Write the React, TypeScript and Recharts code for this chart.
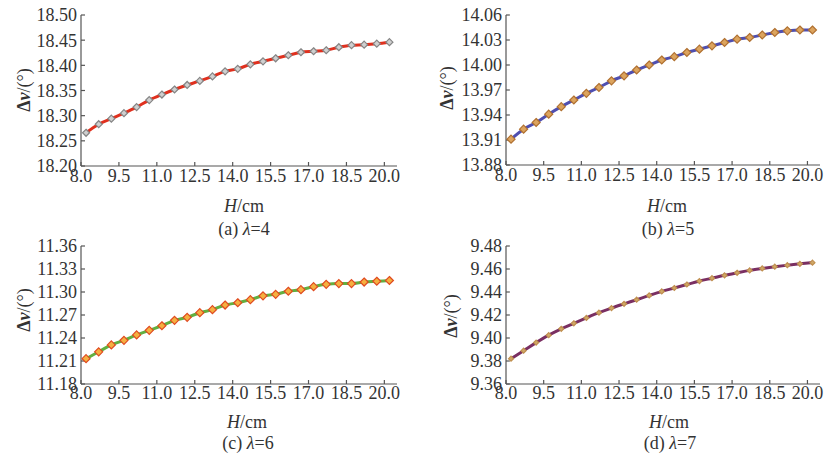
import React from 'react';
import { LineChart, Line, XAxis, YAxis } from 'recharts';

const hValues = [8.2, 8.7, 9.2, 9.7, 10.2, 10.7, 11.2, 11.7, 12.2, 12.7, 13.2, 13.7, 14.2, 14.7, 15.2, 15.7, 16.2, 16.7, 17.2, 17.7, 18.2, 18.7, 19.2, 19.7, 20.2];

const dvLambda4 = [18.266, 18.283, 18.294, 18.305, 18.317, 18.331, 18.342, 18.352, 18.361, 18.369, 18.378, 18.388, 18.393, 18.402, 18.408, 18.414, 18.42, 18.426, 18.428, 18.43, 18.436, 18.44, 18.441, 18.443, 18.446];
const dvLambda5 = [13.911, 13.923, 13.931, 13.941, 13.95, 13.958, 13.966, 13.973, 13.981, 13.987, 13.994, 14.0, 14.006, 14.01, 14.015, 14.019, 14.023, 14.027, 14.031, 14.033, 14.036, 14.039, 14.041, 14.042, 14.042];
const dvLambda6 = [11.213, 11.222, 11.231, 11.237, 11.244, 11.25, 11.256, 11.263, 11.267, 11.273, 11.277, 11.283, 11.286, 11.29, 11.295, 11.297, 11.301, 11.303, 11.307, 11.31, 11.311, 11.311, 11.313, 11.314, 11.315];
const dvLambda7 = [9.382, 9.389, 9.396, 9.4025, 9.408, 9.4128, 9.4175, 9.422, 9.426, 9.4297, 9.4333, 9.437, 9.4405, 9.4435, 9.4465, 9.4495, 9.452, 9.4545, 9.4567, 9.4588, 9.4605, 9.462, 9.4633, 9.4645, 9.4655];

const xTicks = [8.0, 9.5, 11.0, 12.5, 14.0, 15.5, 17.0, 18.5, 20.0];
const yTicksA = [18.2, 18.25, 18.3, 18.35, 18.4, 18.45, 18.5];
const yTicksB = [13.88, 13.91, 13.94, 13.97, 14.0, 14.03, 14.06];
const yTicksC = [11.18, 11.21, 11.24, 11.27, 11.3, 11.33, 11.36];
const yTicksD = [9.36, 9.38, 9.4, 9.42, 9.44, 9.46, 9.48];

const FONT = '"Liberation Serif", "Times New Roman", serif';
const TEXT = '#333';
const AXIS = '#555';

// small diamond markers drawn on top of each line
const makeDot = (r: number, fill: string, stroke: string) => (props: any) => {
  const { cx, cy, index } = props;
  if (cx == null || cy == null) return <g key={index} />;
  const pts = `${cx},${cy - r} ${cx + r},${cy} ${cx},${cy + r} ${cx - r},${cy}`;
  return <polygon key={index} points={pts} fill={fill} stroke={stroke} strokeWidth={1.2} />;
};

type PanelProps = {
  left: number;
  top: number;
  width: number;
  height: number;
  margin: { top: number; right: number; bottom: number; left: number };
  values: number[];
  yTicks: number[];
  lineColor: string;
  dot: any;
  tickGap: number;
};

const Panel = ({ left, top, width, height, margin, values, yTicks, lineColor, dot, tickGap }: PanelProps) => {
  const data = hValues.map((h, i) => ({ h, dv: values[i] }));
  const tickStyle = { fontFamily: FONT, fontSize: 18, fill: TEXT };
  return (
    <div style={{ position: 'absolute', left, top }}>
      <LineChart width={width} height={height} data={data} margin={margin}>
        <XAxis
          dataKey="h"
          type="number"
          domain={[8, 20.5]}
          ticks={xTicks}
          interval={0}
          tickFormatter={(v: number) => v.toFixed(1)}
          tick={tickStyle}
          tickSize={-4}
          tickMargin={tickGap}
          height={30}
          stroke={AXIS}
          strokeWidth={1.2}
          allowDataOverflow
        />
        <YAxis
          type="number"
          domain={[yTicks[0], yTicks[yTicks.length - 1]]}
          ticks={yTicks}
          interval={0}
          tickFormatter={(v: number) => v.toFixed(2)}
          tick={tickStyle}
          tickSize={-4}
          tickMargin={8}
          width={60}
          stroke={AXIS}
          strokeWidth={1.2}
          allowDataOverflow
        />
        <Line
          type="monotone"
          dataKey="dv"
          stroke={lineColor}
          strokeWidth={3}
          dot={dot}
          activeDot={false}
          isAnimationActive={false}
        />
      </LineChart>
    </div>
  );
};

const Centered = ({ x, y, rotate, children }: { x: number; y: number; rotate?: boolean; children: React.ReactNode }) => (
  <div
    style={{
      position: 'absolute',
      left: x,
      top: y,
      transform: `translate(-50%, -50%)${rotate ? ' rotate(-90deg)' : ''}`,
      whiteSpace: 'nowrap',
      fontFamily: FONT,
      fontSize: 18,
      color: TEXT,
      lineHeight: 1,
    }}
  >
    {children}
  </div>
);

const YLabel = () => (
  <span>
    <b>Δ</b>
    <b><i>v</i></b>/(°)
  </span>
);

const XLabel = () => (
  <span>
    <i>H</i>/cm
  </span>
);

const Caption = ({ tag, lam }: { tag: string; lam: number }) => (
  <span>
    ({tag}) <i>λ</i>={lam}
  </span>
);

export default function App() {
  return (
    <div style={{ position: 'absolute', left: 0, top: 0, width: 826, height: 454, background: '#fff', overflow: 'hidden' }}>
      <Panel
        left={0}
        top={0}
        width={410}
        height={232}
        margin={{ top: 15, right: 13, bottom: 36, left: 21 }}
        values={dvLambda4}
        yTicks={yTicksA}
        lineColor="#e0301e"
        dot={makeDot(3.5, '#cfcfcf', '#858585')}
        tickGap={7}
      />
      <Panel
        left={410}
        top={0}
        width={416}
        height={232}
        margin={{ top: 15, right: 6, bottom: 37, left: 36 }}
        values={dvLambda5}
        yTicks={yTicksB}
        lineColor="#4f4fb0"
        dot={makeDot(4, '#dca45e', '#b07030')}
        tickGap={7}
      />
      <Panel
        left={0}
        top={232}
        width={410}
        height={222}
        margin={{ top: 14, right: 13, bottom: 40, left: 21 }}
        values={dvLambda6}
        yTicks={yTicksC}
        lineColor="#62b040"
        dot={makeDot(4, '#f5b040', '#e04a20')}
        tickGap={6}
      />
      <Panel
        left={410}
        top={232}
        width={416}
        height={222}
        margin={{ top: 14, right: 6, bottom: 40, left: 36 }}
        values={dvLambda7}
        yTicks={yTicksD}
        lineColor="#7a2f62"
        dot={makeDot(2.5, '#d0a868', '#c09050')}
        tickGap={6}
      />

      <Centered x={24} y={90} rotate><YLabel /></Centered>
      <Centered x={447} y={88} rotate><YLabel /></Centered>
      <Centered x={24} y={310} rotate><YLabel /></Centered>
      <Centered x={451} y={316} rotate><YLabel /></Centered>

      <Centered x={244} y={206}><XLabel /></Centered>
      <Centered x={667} y={206}><XLabel /></Centered>
      <Centered x={247} y={422}><XLabel /></Centered>
      <Centered x={669} y={422}><XLabel /></Centered>

      <Centered x={244} y={229}><Caption tag="a" lam={4} /></Centered>
      <Centered x={668} y={229}><Caption tag="b" lam={5} /></Centered>
      <Centered x={248} y={443}><Caption tag="c" lam={6} /></Centered>
      <Centered x={670} y={443}><Caption tag="d" lam={7} /></Centered>
    </div>
  );
}
